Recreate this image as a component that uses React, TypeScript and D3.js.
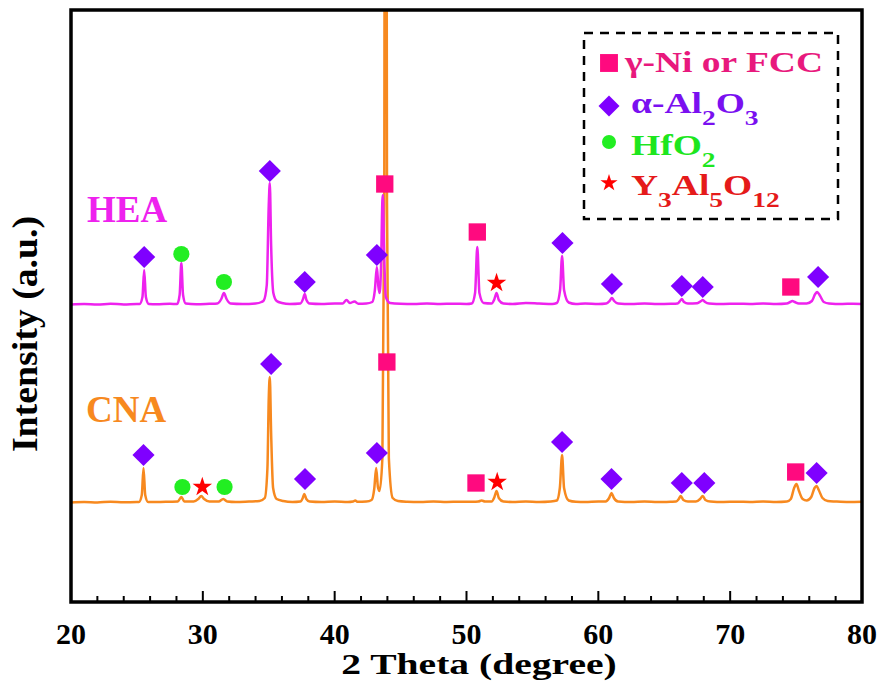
import React from "react";
import * as d3 from "d3";

// XRD patterns, [2θ, intensity a.u.] (HEA drawn with an offset)
const HEA_POINTS: [number, number][] = [
  [20.0, 0.5], [21.0, 1], [22.0, 0.5], [23.0, 1.2], [24.0, 0.6], [25.0, 1],
  [25.2, 1], [25.42, 8], [25.55, 35], [25.68, 8], [25.9, 1],
  [26.5, 0.8], [27.5, 1.2],
  [28.05, 1], [28.24, 10], [28.37, 42], [28.5, 10], [28.7, 1.5],
  [29.5, 0.8], [30.5, 1.2], [31.1, 1.5], [31.4, 6], [31.6, 12], [31.8, 6], [32.1, 1.5],
  [33, 1], [34, 1.5], [34.45, 3], [34.62, 4.5], [34.85, 20], [35.0, 100], [35.08, 122], [35.18, 60], [35.35, 12], [35.6, 4], [36.0, 2], [36.6, 1],
  [37.4, 1.5], [37.6, 6], [37.73, 11], [37.86, 5], [38.1, 1.5],
  [39, 1], [40, 1.5], [40.6, 1.5], [40.9, 5], [41.15, 2], [41.5, 3.5], [41.8, 1.2], [42.4, 1.5],
  [42.85, 3], [43.05, 15], [43.2, 38], [43.32, 18], [43.42, 12], [43.52, 40], [43.62, 105], [43.66, 110], [43.74, 60], [43.88, 8], [44.2, 2], [45, 1.2],
  [46, 1], [47, 1.5], [48, 1], [49, 1.3], [50, 1],
  [50.4, 1.5], [50.65, 12], [50.82, 58], [50.98, 12], [51.3, 2],
  [51.9, 1.5], [52.12, 6], [52.28, 12], [52.45, 5], [52.8, 1.5],
  [53.5, 1], [54.5, 2], [55.5, 1.5], [56.5, 1],
  [56.85, 2], [57.1, 15], [57.25, 49], [57.4, 15], [57.75, 2.5], [58.3, 1],
  [59, 1.5], [60, 1], [60.6, 1.5], [60.85, 4], [61.03, 7], [61.2, 4], [61.5, 1.5],
  [62.5, 1], [63.5, 1.5], [64.5, 1], [65.5, 1.2],
  [66.0, 1.5], [66.2, 4], [66.33, 6], [66.5, 3], [66.8, 1.5], [67.5, 1.8], [67.8, 4], [67.92, 5], [68.1, 3], [68.4, 1.5],
  [69.5, 1], [70.5, 1.3], [71.5, 1], [72.5, 1.4], [73.5, 1],
  [74.3, 1.5], [74.55, 3], [74.72, 4], [74.9, 3], [75.2, 1.5],
  [75.8, 1.5], [76.2, 4], [76.45, 11], [76.6, 13], [76.78, 10], [77.1, 3], [77.5, 1.5], [78.5, 1], [79.3, 1.3], [80, 1],
];

const CNA_POINTS: [number, number][] = [
  [20, 0.5], [21, 1], [22, 0.6], [23, 1.2], [24, 0.7], [25, 1],
  [25.15, 1], [25.37, 8], [25.5, 35], [25.63, 8], [25.85, 1],
  [26.5, 1], [27.5, 1.3], [28.1, 1.5], [28.37, 6], [28.6, 1.5],
  [29.3, 1.5], [29.65, 4], [29.88, 7], [30.1, 4], [30.5, 1.5],
  [31.2, 1.5], [31.55, 4], [31.85, 1.5],
  [32.5, 1], [33.5, 1.5], [34.3, 2], [34.7, 5], [34.9, 35], [35.0, 105], [35.08, 126], [35.18, 70], [35.33, 15], [35.6, 4], [36.1, 2], [36.8, 1],
  [37.4, 1.5], [37.58, 5], [37.7, 9], [37.85, 4], [38.1, 1.5],
  [39, 1], [40, 1.5], [41, 1], [41.4, 1.5], [41.56, 2.5], [41.75, 1.2], [42.4, 1.5],
  [42.8, 3], [43.0, 14], [43.15, 35], [43.28, 16], [43.4, 12],
  [43.62, 45], [43.76, 300], [43.81, 800], [43.92, 800], [43.97, 300], [44.11, 45],
  [44.4, 5], [44.8, 2], [45.5, 1.3], [46.5, 1], [47.5, 1.5], [48.5, 1], [49.5, 1.3], [50.5, 1.2], [50.9, 1.5], [51.15, 2.5], [51.4, 1.5],
  [51.9, 1.5], [52.12, 6], [52.28, 12], [52.45, 5], [52.8, 1.5],
  [53.5, 1], [54.5, 1.5], [55.5, 1], [56.4, 1.5], [56.85, 2.5], [57.08, 15], [57.25, 48], [57.4, 15], [57.75, 2.5], [58.3, 1.2],
  [59, 1], [60, 1.5], [60.55, 1.5], [60.82, 5], [61.0, 10], [61.18, 5], [61.5, 1.5],
  [62.5, 1], [63.5, 1.4], [64.5, 1], [65.5, 1.3], [65.9, 1.5], [66.1, 4], [66.25, 7], [66.45, 3], [66.8, 1.5],
  [67.4, 1.5], [67.72, 4], [67.92, 7], [68.12, 3], [68.5, 1.5],
  [69.5, 1], [70.5, 1.3], [71.5, 1], [72.5, 1.4], [73.5, 1], [74.3, 1.5],
  [74.6, 4], [74.85, 15], [75.03, 19], [75.22, 12], [75.5, 4], [75.8, 2.5], [76.15, 6], [76.4, 15], [76.55, 17], [76.72, 13], [77.0, 5], [77.4, 2], [78, 1.5], [79, 1], [80, 1.2],
];

const HEA_OFFSET = 198;

// phase markers: [phase, 2θ, intensity above the pattern's own baseline]
type Phase = "fcc" | "al2o3" | "hfo2" | "yag";
const HEA_MARKERS: [Phase, number, number][] = [
  ["al2o3", 25.55, 48], ["hfo2", 28.37, 51], ["hfo2", 31.6, 23], ["al2o3", 35.08, 134],
  ["al2o3", 37.73, 23], ["al2o3", 43.2, 50], ["fcc", 43.8, 121], ["fcc", 50.82, 73],
  ["yag", 52.28, 22], ["al2o3", 57.28, 62], ["al2o3", 61.03, 21], ["al2o3", 66.33, 19],
  ["al2o3", 67.92, 18], ["fcc", 74.6, 18], ["al2o3", 76.67, 28],
];
const CNA_MARKERS: [Phase, number, number][] = [
  ["al2o3", 25.5, 48], ["hfo2", 28.45, 16], ["yag", 29.96, 16], ["hfo2", 31.65, 16],
  ["al2o3", 35.18, 139], ["al2o3", 37.75, 24], ["al2o3", 43.2, 50], ["fcc", 43.96, 141],
  ["fcc", 50.72, 20], ["yag", 52.33, 21], ["al2o3", 57.25, 61], ["al2o3", 61.0, 24],
  ["al2o3", 66.33, 20], ["al2o3", 68.04, 20], ["fcc", 74.97, 31], ["al2o3", 76.56, 30],
];

const X_TICKS = [20, 30, 40, 50, 60, 70, 80];
const X_MINOR = [22, 24, 26, 28, 32, 34, 36, 38, 42, 44, 46, 48, 52, 54, 56, 58, 62, 64, 66, 68, 72, 74, 76, 78];

const MARK_COLOR: Record<Phase, string> = {
  fcc: "#FF0A7F",
  al2o3: "#7F00FF",
  hfo2: "#22EE22",
  yag: "#FF0000",
};
const TEXT_COLOR: Record<Phase, string> = {
  fcc: "#E8197D",
  al2o3: "#7A10F0",
  hfo2: "#1EE61E",
  yag: "#E51A1A",
};

const FONT = "Liberation Serif, Tinos, Times New Roman, Times, serif";

function symbolPath(kind: Phase, legend = false) {
  if (kind === "fcc") return d3.symbol(d3.symbolSquare, legend ? 320 : 300)()!;
  if (kind === "al2o3") return d3.symbol(d3.symbolSquare, legend ? 220 : 245)()!;
  if (kind === "hfo2") return d3.symbol(d3.symbolCircle, legend ? 155 : 205)()!;
  return d3.symbol(d3.symbolStar, legend ? 92 : 118)()!;
}

function Marker({ kind, cx, cy, legend }: { kind: Phase; cx: number; cy: number; legend?: boolean }) {
  const rot = kind === "al2o3" ? " rotate(45)" : "";
  return (
    <path
      d={symbolPath(kind, legend)}
      transform={`translate(${cx},${cy})${rot}`}
      fill={MARK_COLOR[kind]}
    />
  );
}

export default function App() {
  const width = 884;
  const height = 691;
  const x = d3.scaleLinear().domain([20, 80]).range([71, 862]);
  const y = d3.scaleLinear().domain([-99, 493]).range([602, 10]);

  const line = d3
    .line<[number, number]>()
    .x((d) => x(d[0]))
    .y((d) => y(d[1]))
    .curve(d3.curveMonotoneX);

  const heaShifted = HEA_POINTS.map(([t, v]) => [t, v + HEA_OFFSET] as [number, number]);

  const sub = 22;
  const legendRows: { kind: Phase; cy: number; base: number; content: React.ReactNode }[] = [
    { kind: "fcc", cy: 63, base: 72, content: <tspan>γ-Ni or FCC</tspan> },
    {
      kind: "al2o3", cy: 106, base: 113,
      content: (
        <>
          <tspan>α-Al</tspan>
          <tspan dy={12} fontSize={sub}>2</tspan>
          <tspan dy={-12}>O</tspan>
          <tspan dy={12} fontSize={sub}>3</tspan>
        </>
      ),
    },
    {
      kind: "hfo2", cy: 142, base: 155,
      content: (
        <>
          <tspan>HfO</tspan>
          <tspan dy={12} fontSize={sub}>2</tspan>
        </>
      ),
    },
    {
      kind: "yag", cy: 183, base: 195,
      content: (
        <>
          <tspan>Y</tspan>
          <tspan dy={12} fontSize={sub}>3</tspan>
          <tspan dy={-12}>Al</tspan>
          <tspan dy={12} fontSize={sub}>5</tspan>
          <tspan dy={-12}>O</tspan>
          <tspan dy={12} fontSize={sub}>12</tspan>
        </>
      ),
    },
  ];

  return (
    <svg
      width={width}
      height={height}
      style={{ position: "absolute", left: 0, top: 0, background: "#fff", fontFamily: FONT, fontWeight: 700 }}
    >
      <defs>
        <clipPath id="plot-clip">
          <rect x={x(20)} y={y(493)} width={x(80) - x(20)} height={y(-99) - y(493)} />
        </clipPath>
      </defs>

      {/* patterns */}
      <g clipPath="url(#plot-clip)" fill="none" strokeWidth={2.5} strokeLinejoin="round">
        <path d={line(CNA_POINTS)!} stroke="#F7891F" />
        <path d={line(heaShifted)!} stroke="#EE22EE" />
      </g>

      {/* phase markers */}
      {CNA_MARKERS.map(([k, t, v], i) => (
        <Marker key={`c${i}`} kind={k} cx={x(t)} cy={y(v)} />
      ))}
      {HEA_MARKERS.map(([k, t, v], i) => (
        <Marker key={`h${i}`} kind={k} cx={x(t)} cy={y(v + HEA_OFFSET)} />
      ))}

      {/* sample labels */}
      <text x={87} y={222} fontSize={37} fill="#EE22EE">HEA</text>
      <text x={86} y={422} fontSize={37} fill="#F7891F">CNA</text>

      {/* frame */}
      <rect
        x={x(20)} y={y(493)} width={x(80) - x(20)} height={y(-99) - y(493)}
        fill="none" stroke="#000" strokeWidth={3.5}
      />

      {/* bottom ticks, pointing inward */}
      {X_TICKS.map((t) => (
        <line key={`M${t}`} x1={x(t)} x2={x(t)} y1={y(-99)} y2={y(-99) - 11} stroke="#000" strokeWidth={2} />
      ))}
      {X_MINOR.map((t) => (
        <line key={`m${t}`} x1={x(t)} x2={x(t)} y1={y(-99)} y2={y(-99) - 6} stroke="#000" strokeWidth={2} />
      ))}
      {X_TICKS.map((t) => (
        <text key={`l${t}`} x={x(t)} y={644} fontSize={30} textAnchor="middle" fill="#000">
          {t}
        </text>
      ))}

      {/* axis titles */}
      <text
        transform="translate(479,674) scale(1.32,1)"
        fontSize={30}
        textAnchor="middle"
        fill="#000"
      >
        2 Theta (degree)
      </text>
      <text
        transform="translate(37,334) rotate(-90) scale(1.05,1)"
        fontSize={36}
        textAnchor="middle"
        fill="#000"
      >
        Intensity (a.u.)
      </text>

      {/* legend */}
      <rect
        x={584} y={33} width={254} height={186}
        fill="#fff" stroke="#000" strokeWidth={2.5} strokeDasharray="9 7"
      />
      {legendRows.map((r) => (
        <g key={r.kind}>
          <Marker kind={r.kind} cx={609} cy={r.cy} legend />
          <text
            transform={`translate(${r.kind === "fcc" ? 625 : 631},${r.base}) scale(1.25,1)`}
            fontSize={30}
            fill={TEXT_COLOR[r.kind]}
          >
            {r.content}
          </text>
        </g>
      ))}
    </svg>
  );
}
